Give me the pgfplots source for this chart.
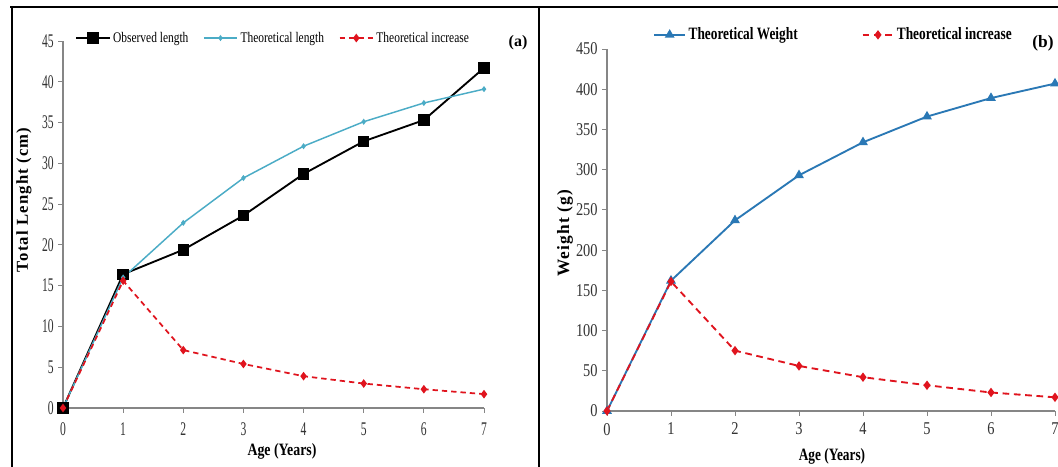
\documentclass[border=0pt]{standalone}
\usepackage{fontspec}
\setmainfont{Liberation Serif}
\newfontfamily\lfont[FakeStretch=0.6]{Liberation Serif}
\newfontfamily\lleg[FakeStretch=0.78]{Liberation Serif}
\newfontfamily\llab[FakeStretch=0.8]{Liberation Serif}
\newfontfamily\ylabfont[LetterSpace=7]{Liberation Serif}
\newfontfamily\rfont[FakeStretch=0.8]{Liberation Serif}
\newfontfamily\rleg[FakeStretch=0.77]{Liberation Serif}
\usepackage{pgfplots}
\pgfplotsset{compat=1.18}
\definecolor{obsblack}{HTML}{000000}
\definecolor{thcyan}{HTML}{4BACC6}
\definecolor{incred}{HTML}{E0141E}
\definecolor{wblue}{HTML}{2A78B5}
\definecolor{axgray}{HTML}{868686}

\pgfplotsset{
  panel/.style={
    scale only axis, anchor=south west,
    axis x line=bottom, axis y line=left,
    axis line style={axgray,-,line width=0.8pt},
    tick style={axgray,line width=0.7pt},
    tick align=outside, major tick length=3.5pt,
    xmin=0,xmax=7,xtick={0,...,7},
    clip=false,
    /pgf/number format/assume math mode=true,
    tick label style={black!80},
    legend columns=2,
    legend cell align=left,
    legend style={draw=none,fill=none,inner sep=0pt},
  },
}

\begin{document}
\begin{tikzpicture}
\path[use as bounding box] (0,0) rectangle (793.5pt,350.25pt);
\clip (0,0) rectangle (793.5pt,350.25pt);
\fill[white] (0,0) rectangle (793.5pt,350.25pt);

% panel frames
\draw[line width=2.2pt] (7.5pt,345pt) -- (793.5pt,345pt);
\draw[line width=1.5pt] (9pt,-1pt) -- (9pt,346pt);
\draw[line width=1.1pt] (404.25pt,-1pt) -- (404.25pt,345pt);

% (a) length
\begin{axis}[panel,
  at={(47.25pt,44.25pt)}, width=315.75pt, height=275.25pt,
  ymin=0,ymax=45,ytick={0,5,...,45},
  tick label style={font=\lfont\fontsize{14.5}{14.5}\selectfont},
  xticklabel style={yshift=-4pt},
  legend columns=3,
  legend style={at={(0.0285,1.008)},anchor=west,
    font=\lleg\fontsize{11}{11}\selectfont,
    /tikz/every even column/.append style={column sep=9pt}},
  legend image code/.code={\draw[mark repeat=2,mark phase=2,#1] plot coordinates {(0pt,0pt)(12.5pt,0pt)(25pt,0pt)};},
]
\addplot[obsblack,line width=1.4pt,mark=square*,mark size=3.6pt]
  coordinates {(0,0)(1,16.4)(2,19.4)(3,23.6)(4,28.7)(5,32.7)(6,35.3)(7,41.7)};
\addlegendentry{Observed length}
\addplot[thcyan,line width=1.1pt,mark=diamond*,mark size=1.4pt]
  coordinates {(0,0)(1,16.0)(2,22.7)(3,28.2)(4,32.1)(5,35.1)(6,37.4)(7,39.1)};
\addlegendentry{Theoretical length}
\addplot[incred,line width=1.3pt,dash pattern=on 4pt off 3pt,mark=diamond*,mark size=2.2pt,mark options={solid}]
  coordinates {(0,0)(1,15.6)(2,7.1)(3,5.4)(4,3.9)(5,3.0)(6,2.3)(7,1.7)};
\addlegendentry{Theoretical increase}
\end{axis}

% (b) weight
\begin{axis}[panel,
  at={(455.25pt,42pt)}, width=336pt, height=271.5pt,
  ymin=0,ymax=450,ytick={0,50,...,450},
  tick label style={font=\rfont\fontsize{13.5}{13.5}\selectfont},
  xticklabel style={yshift=-2pt},
  legend columns=2,
  legend style={at={(0.103,1.039)},anchor=west,
    font=\rleg\bfseries\fontsize{13}{13}\selectfont,
    /tikz/every even column/.append style={column sep=46pt}},
  legend image code/.code={\draw[mark repeat=2,mark phase=2,#1] plot coordinates {(0pt,0pt)(11.5pt,0pt)(23pt,0pt)};},
]
\addplot[wblue,line width=1.4pt,mark=triangle*,mark size=2.9pt]
  coordinates {(0,0)(1,162)(2,237)(3,293)(4,334)(5,366)(6,389)(7,407)};
\addlegendentry{Theoretical Weight}
\addplot[incred,line width=1.4pt,dash pattern=on 5pt off 3.5pt,mark=diamond*,mark size=2.4pt,mark options={solid}]
  coordinates {(0,0)(1,161)(2,75)(3,56)(4,42)(5,32)(6,23)(7,17)};
\addlegendentry{Theoretical increase}
\end{axis}

% panel tags and axis titles
\node[font=\bfseries\fontsize{12}{12}\selectfont] at (388.5pt,318pt) {(a)};
\node[font=\bfseries\fontsize{13}{13}\selectfont] at (782.25pt,318pt) {(b)};
\node[font=\llab\bfseries\fontsize{13}{13}\selectfont] at (211.5pt,12pt) {Age (Years)};
\node[font=\rleg\bfseries\fontsize{13}{13}\selectfont] at (624pt,8.25pt) {Age (Years)};
\node[rotate=90,font=\ylabfont\bfseries\fontsize{12.5}{12.5}\selectfont] at (18pt,200.25pt) {Total Lenght (cm)};
\node[rotate=90,font=\ylabfont\bfseries\fontsize{13}{13}\selectfont] at (423.75pt,175.5pt) {Weight (g)};
\end{tikzpicture}
\end{document}
